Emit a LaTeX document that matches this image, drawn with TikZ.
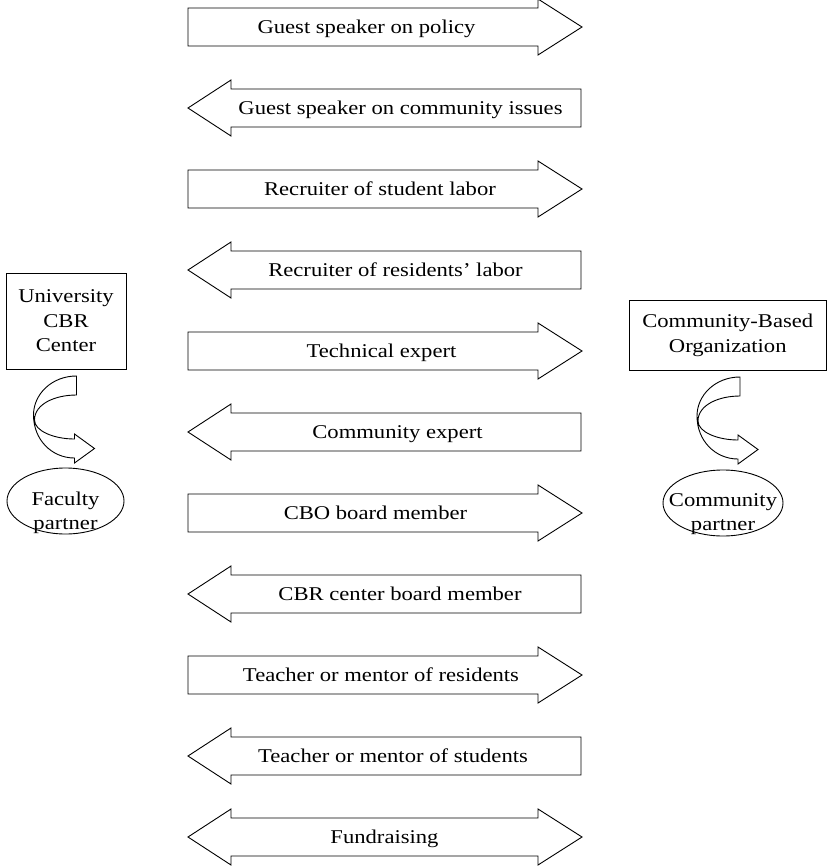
\documentclass[tikz,border=0pt]{standalone}
\usepackage{fontspec}
\setmainfont{Liberation Serif}[FakeStretch=1.16]
\usetikzlibrary{shapes.geometric}

\tikzset{
  outline/.style={draw=black, line width=0.9pt, fill=white, line join=miter},
  captext/.style={font=\fontsize{19.5}{24.5}\selectfont, inner sep=0pt, anchor=base},
  sidebox/.style={outline, inner sep=0pt, align=center, font=\fontsize{19.5}{24.5}\selectfont},
  partner/.style={outline, ellipse, inner sep=0pt},
  % wide arrow pointing to the right, origin on its centre line
  toright/.pic={\path[outline] (188,-19) -- (538,-19) -- (538,-28) -- (582,0)
      -- (538,28) -- (538,19) -- (188,19) -- cycle;},
  % wide arrow pointing to the left
  toleft/.pic={\path[outline] (581,-19) -- (231,-19) -- (231,-28) -- (188,0)
      -- (231,28) -- (231,19) -- (581,19) -- cycle;},
  % arrow with a head at both ends
  twoway/.pic={\path[outline] (231,-19) -- (538,-19) -- (538,-28) -- (582,0)
      -- (538,28) -- (538,19) -- (231,19) -- (231,28) -- (188,0)
      -- (231,-28) -- cycle;},
  % ribbon arrow bending down the left side and pointing right
  bendarrow/.pic={\path[outline] (76.5,376) .. controls (52,376) and (33.5,394) .. (33.5,415)
      .. controls (33.5,440) and (52,458) .. (74.5,458)
      -- (74.5,463) -- (94.5,448.5) -- (74.5,434) -- (74.5,439)
      .. controls (54,439) and (34.5,431) .. (34.5,420)
      .. controls (34.5,404) and (55,395) .. (76.5,395) -- cycle;}
}

\begin{document}
\begin{tikzpicture}[x=1pt,y=-1pt]
\useasboundingbox (0,0) rectangle (828,867);

% role arrows between the two sides
\pic at (0,27)  {toright};
\node[captext] (r1)  at (366.5,33.5) {Guest speaker on policy};
\pic at (0,108) {toleft};
\node[captext] (r2)  at (400.5,114.5) {Guest speaker on community issues};
\pic at (0,189) {toright};
\node[captext] (r3)  at (380,195.5) {Recruiter of student labor};
\pic at (0,270) {toleft};
\node[captext] (r4)  at (395.5,276.5) {Recruiter of residents’ labor};
\pic at (0,351) {toright};
\node[captext] (r5)  at (381.5,357.5) {Technical expert};
\pic at (0,432) {toleft};
\node[captext] (r6)  at (397.5,438.5) {Community expert};
\pic at (0,513) {toright};
\node[captext] (r7)  at (375.5,519.5) {CBO board member};
\pic at (0,594) {toleft};
\node[captext] (r8)  at (400,600.5) {CBR center board member};
\pic at (0,675) {toright};
\node[captext] (r9)  at (381,681.5) {Teacher or mentor of residents};
\pic at (0,756) {toleft};
\node[captext] (r10) at (393,762.5) {Teacher or mentor of students};
\pic at (0,837) {twoway};
\node[captext] (r11) at (384.5,843.5) {Fundraising};

% university side
\node[sidebox, minimum width=120pt, minimum height=96pt] (ucbr) at (66,321)
  {University\\CBR\\Center};
\pic at (0,0) {bendarrow};
\node[partner, minimum width=117pt, minimum height=66pt] (fac) at (65.5,501) {};
\node[captext, anchor=center, align=center, font=\fontsize{19.5}{24}\selectfont]
  (factext) at (65.5,513) {Faculty\\partner};

% community side
\node[sidebox, minimum width=197.5pt, minimum height=70pt] (cbo) at (727.75,335.5)
  {Community-Based\\Organization};
\pic at (663.5,1) {bendarrow};
\node[partner, minimum width=120pt, minimum height=66pt] (com) at (723,503) {};
\node[captext, anchor=center, align=center, font=\fontsize{19.5}{24}\selectfont]
  (comtext) at (723,514) {Community\\partner};
\end{tikzpicture}
\end{document}
